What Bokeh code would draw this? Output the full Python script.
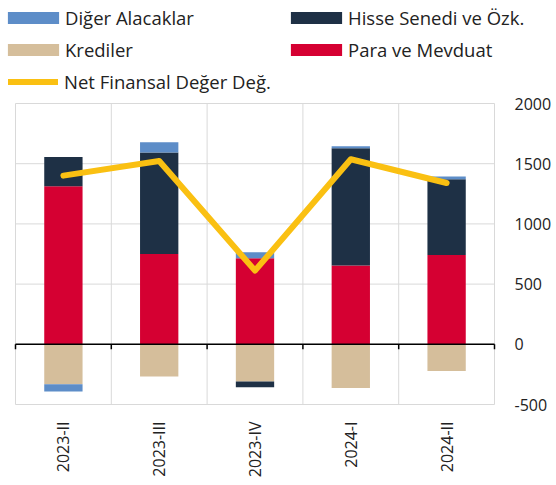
import math
import numpy as np
from bokeh.plotting import figure
from bokeh.core.properties import value
from bokeh.models import (ColumnDataSource, FixedTicker, LinearAxis, Legend, LegendItem)
from bokeh.embed import file_html
from bokeh.resources import INLINE

categories = ["2023-II", "2023-III", "2023-IV", "2024-I", "2024-II"]
para_mevduat = [1312, 751, 714, 654, 742]
krediler = [-332, -268, -310, -362, -221]
hisse_senedi = [244, 841, -47, 974, 628]
diger_alacaklar = [-61, 86, 50, 17, 23]
net_finansal = [1401, 1523, 612, 1537, 1340]
y_ticks = [-500, 0, 500, 1000, 1500, 2000]
y_tick_labels = ["-500", "0", "500", "1000", "1500", "2000"]

FONT = "Open Sans"
TEXT = "#222222"
GRID = "#D9D9D9"
LINE_COLOR = "#FAC012"
colors = {
    "Para ve Mevduat": "#D50032",
    "Krediler": "#D5BE9B",
    "Hisse Senedi ve Özk.": "#1E3045",
    "Diğer Alacaklar": "#5D8DC8",
}
series = [
    ("Para ve Mevduat", para_mevduat),
    ("Krediler", krediler),
    ("Hisse Senedi ve Özk.", hisse_senedi),
    ("Diğer Alacaklar", diger_alacaklar),
]

n = len(categories)
xc = np.arange(n) + 0.5
bounds = np.arange(n + 1)
ymin, ymax = y_ticks[0], y_ticks[-1]

# layout constants (pixels)
W, H = 556, 485
PLOT_LEFT, PLOT_RIGHT, PLOT_TOP, PLOT_BOTTOM = 15, 494, 103, 404
FRAME_BOTTOM = 418
px_per_x = (PLOT_RIGHT - PLOT_LEFT) / n
px_per_y = (PLOT_BOTTOM - PLOT_TOP) / (ymax - ymin)
x_start = -PLOT_LEFT / px_per_x
x_end = n + (W - PLOT_RIGHT) / px_per_x
y_end = ymax + PLOT_TOP / px_per_y
y_start = ymin - (FRAME_BOTTOM - PLOT_BOTTOM) / px_per_y

p = figure(width=W, height=H, x_range=(x_start, x_end), y_range=(y_start, y_end),
           output_backend="svg", toolbar_location=None, y_axis_location=None,
           x_axis_location=None, min_border_left=0, min_border_right=0,
           min_border_top=0, min_border_bottom=H - FRAME_BOTTOM)
p.outline_line_color = None
p.xgrid.visible = False
p.ygrid.visible = False
p.background_fill_color = "white"
p.border_fill_color = "white"

# grid lines / plot border restricted to data area
p.segment(x0=bounds, y0=np.full(n + 1, ymin), x1=bounds, y1=np.full(n + 1, ymax),
          line_color=GRID, line_width=1)
yt = np.array(y_ticks, dtype=float)
p.segment(x0=np.zeros(len(yt)), y0=yt, x1=np.full(len(yt), n), y1=yt,
          line_color=GRID, line_width=1)

pos = np.zeros(n)
neg = np.zeros(n)
rend = {}
for name, vals in series:
    v = np.array(vals, dtype=float)
    bottom = np.where(v >= 0, pos, neg)
    top = bottom + v
    pos = np.where(v >= 0, top, pos)
    neg = np.where(v < 0, top, neg)
    src = ColumnDataSource(dict(x=xc, bottom=bottom, top=top))
    rend[name] = p.vbar(x="x", bottom="bottom", top="top", width=0.4, source=src,
                        fill_color=colors[name], line_color=None)

# zero line with small ticks at category boundaries
p.segment(x0=[0], y0=[0], x1=[n], y1=[0], line_color="black", line_width=1.5)
tick_len = 5 / px_per_y
p.segment(x0=bounds, y0=np.zeros(n + 1), x1=bounds, y1=np.full(n + 1, -tick_len),
          line_color="black", line_width=1.5)

lsrc = ColumnDataSource(dict(x=xc, y=net_finansal))
lr = p.line("x", "y", source=lsrc, line_color=LINE_COLOR, line_width=6,
            line_cap="round", line_join="round")

# right-hand value labels
tsrc = ColumnDataSource(dict(x=np.full(len(yt), n), y=yt, t=y_tick_labels))
p.text(x="x", y="y", text="t", source=tsrc, x_offset=20, text_align="left",
       text_baseline="middle", text_font=value(FONT), text_font_size="16px",
       text_color=TEXT)

# category labels
xa = LinearAxis(ticker=FixedTicker(ticks=list(xc)),
                major_label_overrides={float(x): c for x, c in zip(xc, categories)})
xa.axis_line_color = None
xa.major_tick_line_color = None
xa.minor_tick_line_color = None
xa.major_tick_out = 0
xa.major_label_standoff = 17 - (FRAME_BOTTOM - PLOT_BOTTOM)
xa.major_label_orientation = math.pi / 2
xa.major_label_text_font = FONT
xa.major_label_text_font_size = "16px"
xa.major_label_text_color = TEXT
p.add_layout(xa, "below")

# legends (positioned in screen units from the frame's bottom-left)
ITEM_H, SPACING = 26, 6
common = dict(label_text_font=FONT, label_text_font_size="18.5px", label_text_color=TEXT,
              label_height=ITEM_H, spacing=SPACING, padding=0, margin=0,
              border_line_color=None, background_fill_alpha=0)
top1 = 4
h2 = 2 * ITEM_H + SPACING
top3 = top1 + 2 * (ITEM_H + SPACING)

leg1 = Legend(items=[LegendItem(label="Diğer Alacaklar", renderers=[rend["Diğer Alacaklar"]]),
                     LegendItem(label="Krediler", renderers=[rend["Krediler"]])],
              location=(1, FRAME_BOTTOM - top1 - h2),
              glyph_width=64, glyph_height=15, label_standoff=0, **common)
leg2 = Legend(items=[LegendItem(label="Hisse Senedi ve Özk.", renderers=[rend["Hisse Senedi ve Özk."]]),
                     LegendItem(label="Para ve Mevduat", renderers=[rend["Para ve Mevduat"]])],
              location=(284, FRAME_BOTTOM - top1 - h2),
              glyph_width=64, glyph_height=15, label_standoff=0, **common)
leg3 = Legend(items=[LegendItem(label="Net Finansal Değer Değ.", renderers=[lr])],
              location=(8, FRAME_BOTTOM - top3 - ITEM_H),
              glyph_width=50, glyph_height=15, label_standoff=6, **common)
for L in (leg1, leg2, leg3):
    p.add_layout(L, "center")

open("out.html", "w").write(file_html(p, INLINE))
